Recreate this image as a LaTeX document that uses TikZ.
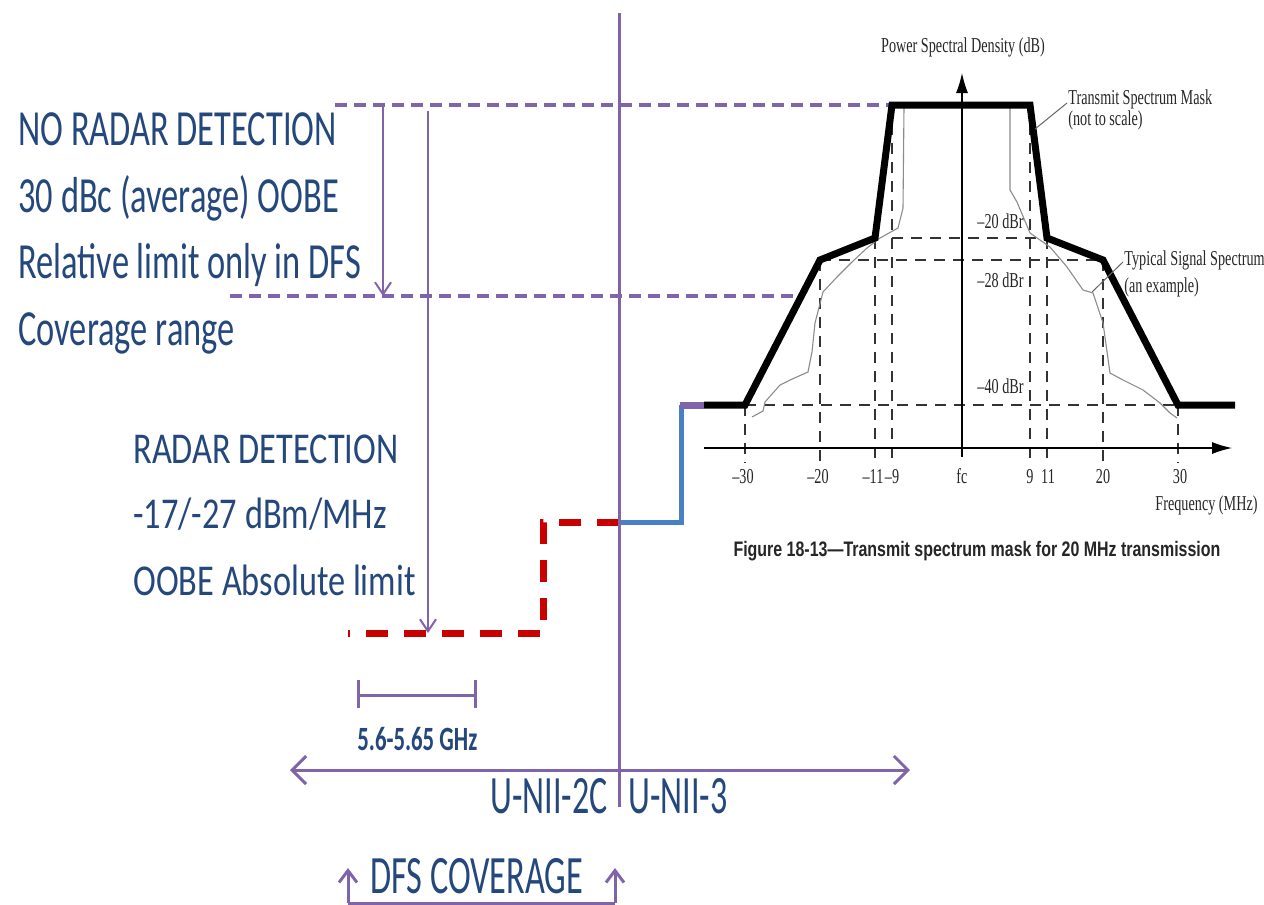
\documentclass[tikz,border=0pt]{standalone}
\usepackage{fontspec}
\usepackage{graphicx}
\setmainfont{Carlito}
\newfontfamily\timesf{Liberation Serif}
\newfontfamily\arialf{Liberation Sans}
\usetikzlibrary{arrows.meta}

\definecolor{txtblue}{RGB}{36,72,124}
\definecolor{lilac}{RGB}{128,100,170}
\definecolor{linkblue}{RGB}{72,128,196}
\definecolor{limitred}{RGB}{200,0,0}

% horizontally condensed text
\newcommand{\sq}[2]{\scalebox{#1}[1]{#2}}

\tikzset{
  bandtxt/.style={font=\fontsize{22}{22}\selectfont, text=txtblue, inner sep=0pt, anchor=base west},
  toptxt/.style={font=\fontsize{25.3}{25.3}\selectfont, text=txtblue, inner sep=0pt, anchor=base west},
  bandname/.style={font=\fontsize{27}{27}\selectfont, text=txtblue, inner sep=0pt},
  lilacdash/.style={lilac, line width=1.6pt, dash pattern=on 6pt off 3.5pt},
  lilacline/.style={lilac, line width=1.5pt},
  thinarrow/.style={lilac, line width=1pt, -{Straight Barb[length=6pt,width=8pt]}},
  redlimit/.style={limitred, line width=3.5pt, dash pattern=on 11pt off 8pt},
  bluelimit/.style={linkblue, line width=2.5pt, line join=miter},
  maskline/.style={line width=3.5pt, line join=miter},
  gridline/.style={black!80, line width=0.7pt, dash pattern=on 5.5pt off 4pt},
  axisline/.style={line width=0.6pt, -{Latex[length=10pt,width=6pt]}},
  signal/.style={black!45, line width=0.55pt},
  leader/.style={black!60, line width=0.5pt},
  tlbl/.style={font=\timesf\fontsize{10.6}{10.6}\selectfont, inner sep=0pt, text=black!85},
}

\begin{document}
\begin{tikzpicture}[x=0.5pt,y=-0.5pt]
\useasboundingbox (0,0) rectangle (1264,905);
\fill[white] (0,0) rectangle (1264,905);

% ---- key coordinates of the spectrum mask
\coordinate (m0) at (680,405);
\coordinate (m1) at (704,405);
\coordinate (m2) at (745,405);
\coordinate (m3) at (820,260);
\coordinate (m4) at (875,238);
\coordinate (m5) at (892,105);
\coordinate (m6) at (1030,105);
\coordinate (m7) at (1047,238);
\coordinate (m8) at (1103,260);
\coordinate (m9) at (1178,405);
\coordinate (m10) at (1235,405);

% ---- band edge and reference levels
\coordinate (edgeT) at (619,13);
\coordinate (edgeB) at (619,807);
\coordinate (lvlA) at (335,105);
\coordinate (lvlB1) at (230,296);
\coordinate (lvlB2) at (797,296);

\draw[lilacdash] (lvlA) -- (m5);
\draw[lilacdash] (lvlB1) -- (lvlB2);

% ---- limits
\coordinate (r0) at (619,522);
\coordinate (r1) at (543,522);
\coordinate (r2) at (543,633);
\coordinate (r3) at (348,633);
\coordinate (b1) at (681,522);
\coordinate (b2) at (681,405);

\draw[redlimit] (r0) -- (r1) -- (r2) -- (r3);
\draw[bluelimit] (r0) -- (b1) -- (b2);

\draw[lilacline] (edgeT) -- (edgeB);

% ---- level arrows
\coordinate (a1s) at (383,105);
\coordinate (a1e) at (383,296);
\coordinate (a2s) at (428,111);
\coordinate (a2e) at (428,633);
\draw[thinarrow] (a1s) -- (a1e);
\draw[thinarrow] (a2s) -- (a2e);

% ---- 5.6-5.65 GHz span
\coordinate (s1) at (358,695);
\coordinate (s2) at (475,695);
\draw[lilacline] (s1) -- (s2);
\draw[lilacline] ([yshift=7.5pt]s1) -- ([yshift=-6.5pt]s1);
\draw[lilacline] ([yshift=7.5pt]s2) -- ([yshift=-6.5pt]s2);
\node[font=\bfseries\fontsize{17}{17}\selectfont, text=txtblue, inner sep=0pt, anchor=base west] (span) at (357,750) {\sq{0.67}{5.6-5.65 GHz}};

% ---- band axis
\coordinate (bandL) at (290,770);
\coordinate (bandR) at (910,770);
\draw[lilac, line width=1.5pt, {Straight Barb[length=7pt,width=14pt]}-{Straight Barb[length=7pt,width=14pt]}] (bandL) -- (bandR);
\node[bandname, anchor=base east] (u2c) at (608,813) {\sq{0.63}{U-NII-2C}};
\node[bandname, anchor=base west] (u3) at (628,813) {\sq{0.63}{U-NII-3}};

% ---- DFS coverage bracket
\coordinate (d1) at (348,903);
\coordinate (d2) at (615,903);
\coordinate (d1t) at (348,868);
\coordinate (d2t) at (615,868);
\draw[lilac, line width=1.5pt] (d1) -- (d2);
\draw[lilac, line width=1.5pt, -{Straight Barb[length=6pt,width=9pt]}] (d1) -- (d1t);
\draw[lilac, line width=1.5pt, -{Straight Barb[length=6pt,width=9pt]}] (d2) -- (d2t);
\node[bandname, anchor=base west] (dfs) at (370,893) {\sq{0.635}{DFS COVERAGE}};

% ---- left captions
\node[toptxt] (t1) at (18,145) {\sq{0.68}{NO RADAR DETECTION}};
\node[toptxt] (t2) at (18,212) {\sq{0.68}{30 dBc (average) OOBE}};
\node[toptxt] (t3) at (18,278) {\sq{0.68}{Relative limit only in DFS}};
\node[toptxt] (t4) at (18,345) {\sq{0.68}{Coverage range}};

\node[bandtxt] (t5) at (133,463) {\sq{0.78}{RADAR DETECTION}};
\node[bandtxt] (t6) at (133,528) {\sq{0.78}{-17/-27 dBm/MHz}};
\node[bandtxt] (t7) at (133,595) {\sq{0.78}{OOBE Absolute limit}};

% ---- spectrum mask figure: reference grid
\draw[gridline] (m5) -- ++(0,358);
\draw[gridline] (m6) -- ++(0,358);
\draw[gridline] (m4) -- ++(0,225);
\draw[gridline] (m7) -- ++(0,225);
\draw[gridline] (m3) -- ++(0,203);
\draw[gridline] (m8) -- ++(0,203);
\draw[gridline] (m2) -- ++(0,58);
\draw[gridline] (m9) -- ++(0,58);
\draw[gridline] (892,238) -- (m7);
\draw[gridline] (m3) -- (m8);
\draw[gridline] (m2) -- (m9);

% typical signal spectrum
\draw[signal] (752,417) -- (763,411) -- (765,402) -- (780,385) -- (790,380) -- (808,372)
  -- (812,352) -- (815,323) -- (823,292) -- (837,277) -- (852,262) -- (867,248)
  -- (880,238) -- (898,228) -- (903,208) -- (904,107);
\draw[signal] (1010,107) -- (1010,190) -- (1017,202) -- (1030,233) -- (1050,247)
  -- (1067,267) -- (1083,290) -- (1093,293) -- (1103,323) -- (1110,373) -- (1123,380)
  -- (1143,390) -- (1160,403) -- (1170,413) -- (1177,418);

% mask
\draw[lilac, line width=3.5pt] (m0) -- (m1);
\draw[maskline] (m1) -- (m2) -- (m3) -- (m4) -- (m5) -- (m6) -- (m7) -- (m8) -- (m9) -- (m10);

% axes
\coordinate (fx0) at (704,448);
\coordinate (fx1) at (1232,448);
\coordinate (fy0) at (962,457);
\coordinate (fy1) at (962,73);
\draw[axisline] (fx0) -- (fx1);
\draw[axisline] (fy0) -- (fy1);

% labels
\node[tlbl, anchor=base] (psd) at (963,52) {\sq{0.67}{Power Spectral Density (dB)}};
\node[tlbl, anchor=base west] (tsm1) at (1068,104) {\sq{0.67}{Transmit Spectrum Mask}};
\node[tlbl, anchor=base west] (tsm2) at (1068,125) {\sq{0.67}{(not to scale)}};
\draw[leader] (1035,129) -- (1067,103);
\node[tlbl, anchor=base west] (l20) at (977,228) {\sq{0.67}{–20 dBr}};
\node[tlbl, anchor=base west] (l28) at (977,287) {\sq{0.67}{–28 dBr}};
\node[tlbl, anchor=base west] (l40) at (977,393) {\sq{0.67}{–40 dBr}};
\node[tlbl, anchor=base west] (tss1) at (1124,265) {\sq{0.67}{Typical Signal Spectrum}};
\node[tlbl, anchor=base west] (tss2) at (1124,292) {\sq{0.67}{(an example)}};
\draw[leader] (1092,292) -- (1123,262);

\foreach \xx/\tt in {743/–30, 818/–20, 873/–11, 892/–9, 962/fc, 1030/9, 1048/11, 1103/20, 1180/30}
  \node[tlbl, anchor=base] at (\xx,483) {\sq{0.67}{\tt}};
\node[tlbl, anchor=base east] (fq) at (1258,510) {\sq{0.67}{Frequency (MHz)}};

\node[font=\arialf\bfseries\fontsize{10.5}{10.5}\selectfont, inner sep=0pt, anchor=base, text=black!85] (cap) at (977,556)
  {\sq{0.76}{Figure 18-13—Transmit spectrum mask for 20 MHz transmission}};
\end{tikzpicture}
\end{document}
